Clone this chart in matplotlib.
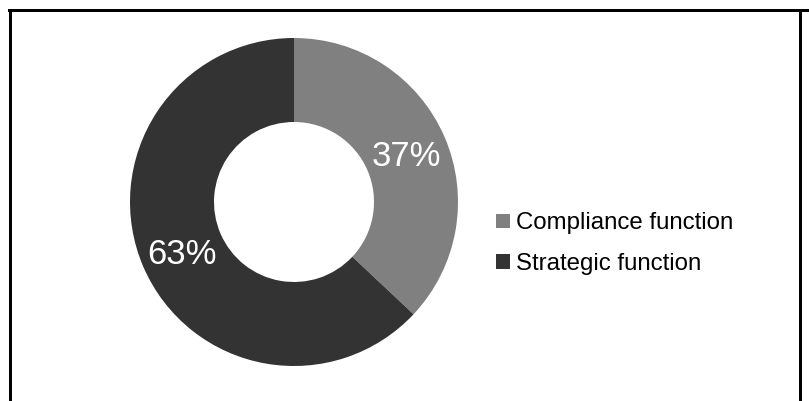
import matplotlib
matplotlib.use("Agg")
import matplotlib.pyplot as plt
from matplotlib.patches import Patch
from matplotlib.lines import Line2D

plt.rcParams['font.family'] = ['Liberation Sans', 'DejaVu Sans']

categories = ["Compliance function", "Strategic function"]
shares = [37, 63]
colors = ["#808080", "#333333"]

W, H = 809, 401
fig = plt.figure(figsize=(W / 100, H / 100), dpi=100)
ax = fig.add_axes([0, 0, 1, 1])

# donut chart, clockwise from 12 o'clock
cx, cy, r_out, r_in = 294, H - 202, 164, 80
wedges, _, autotexts = ax.pie(
    shares, colors=colors, startangle=90, counterclock=False,
    center=(cx, cy), radius=r_out,
    wedgeprops=dict(width=r_out - r_in, linewidth=0),
    autopct=lambda p: f"{round(p):d}%", pctdistance=0.745,
    textprops=dict(color="white", fontsize=25),
    frame=True,
)
# centre the visible glyphs (no descenders) on the label point
for t in autotexts:
    x, y = t.get_position()
    t.set_position((x, y - 3.5))

ax.set_xlim(0, W)
ax.set_ylim(0, H)
ax.set_aspect("equal")
ax.axis("off")

handles = [Patch(facecolor=c, edgecolor="none") for c in colors]
fig.legend(
    handles, categories, loc="center left",
    bbox_to_anchor=(496 / W, (H - 243.5) / H),
    frameon=False, fontsize=17.3, borderpad=0, borderaxespad=0,
    handlelength=0.58, handleheight=0.58, handletextpad=0.25,
    labelspacing=0.75,
)

# outer frame
lw = 3 * 72 / 100
fig.add_artist(Line2D([8.5 / W, 1], [1 - 10 / H, 1 - 10 / H], color="black", lw=lw, transform=fig.transFigure))
fig.add_artist(Line2D([9.5 / W, 9.5 / W], [0, 1 - 10 / H], color="black", lw=lw, transform=fig.transFigure))
fig.add_artist(Line2D([800 / W, 800 / W], [0, 1 - 10 / H], color="black", lw=lw, transform=fig.transFigure))

fig.savefig("out.png", dpi=100)
